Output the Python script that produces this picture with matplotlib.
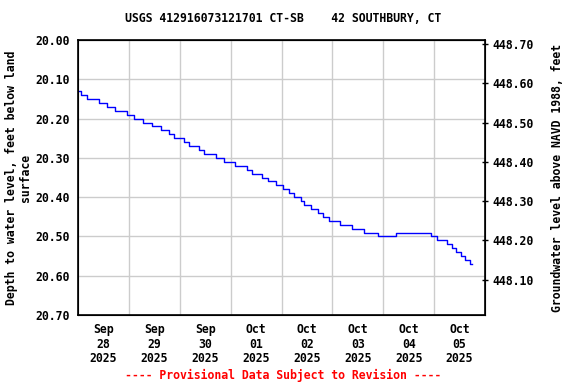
import numpy as np
import pandas as pd
import matplotlib
matplotlib.use("Agg")
import matplotlib.pyplot as plt
import matplotlib.dates as mdates

# step changes (time, depth below land surface)
step_times = [
    "2025-09-28 00:00", "2025-09-28 01:30", "2025-09-28 04:15", "2025-09-28 09:45",
    "2025-09-28 13:45", "2025-09-28 17:30", "2025-09-28 23:00",
    "2025-09-29 02:30", "2025-09-29 06:30", "2025-09-29 10:45", "2025-09-29 15:00",
    "2025-09-29 18:45", "2025-09-29 21:30",
    "2025-09-30 02:00", "2025-09-30 04:15", "2025-09-30 09:00", "2025-09-30 11:15",
    "2025-09-30 17:00", "2025-09-30 20:45",
    "2025-10-01 02:00", "2025-10-01 07:30", "2025-10-01 10:15", "2025-10-01 14:45",
    "2025-10-01 17:30", "2025-10-01 21:30",
    "2025-10-02 00:30", "2025-10-02 03:45", "2025-10-02 05:45", "2025-10-02 09:00",
    "2025-10-02 10:45", "2025-10-02 13:45", "2025-10-02 17:00", "2025-10-02 19:45",
    "2025-10-02 22:30",
    "2025-10-03 03:45", "2025-10-03 09:15", "2025-10-03 14:45", "2025-10-03 21:30",
    "2025-10-04 06:00", "2025-10-04 22:30",
    "2025-10-05 01:30", "2025-10-05 06:00", "2025-10-05 08:30", "2025-10-05 10:15",
    "2025-10-05 12:45", "2025-10-05 14:45", "2025-10-05 17:00", "2025-10-05 18:00",
]
step_depths = [
    20.13, 20.14, 20.15, 20.16, 20.17, 20.18, 20.19,
    20.20, 20.21, 20.22, 20.23, 20.24, 20.25,
    20.26, 20.27, 20.28, 20.29, 20.30, 20.31,
    20.32, 20.33, 20.34, 20.35, 20.36, 20.37,
    20.38, 20.39, 20.40, 20.41, 20.42, 20.43, 20.44, 20.45, 20.46,
    20.47, 20.48, 20.49, 20.50,
    20.49, 20.50,
    20.51, 20.52, 20.53, 20.54, 20.55, 20.56, 20.57, 20.57,
]
land_surface = 468.71  # feet above NAVD 1988
depth_ticks = [20.00, 20.10, 20.20, 20.30, 20.40, 20.50, 20.60, 20.70]
elev_ticks = [448.10, 448.20, 448.30, 448.40, 448.50, 448.60, 448.70]
day_labels = ["2025-09-28", "2025-09-29", "2025-09-30", "2025-10-01",
              "2025-10-02", "2025-10-03", "2025-10-04", "2025-10-05"]

font = "DejaVu Sans Mono"
fs = 8.3
plt.rcParams['font.family'] = font
plt.rcParams['font.weight'] = 'bold'

t = pd.to_datetime(step_times)
days = pd.to_datetime(day_labels)

fig = plt.figure(figsize=(5.76, 3.84), dpi=100)
ax = fig.add_axes([78/576, 1-315/384, (485-78)/576, (315-40)/384])

ax.plot(t, step_depths, drawstyle='steps-post', color='blue', lw=1)

ax.set_ylim(20.70, 20.00)
ax.set_yticks(depth_ticks)
ax.set_yticklabels(["%.2f" % v for v in depth_ticks], fontsize=fs, fontweight='bold')
ax.set_xlim(days[0], days[-1] + pd.Timedelta(days=1))

# gridlines at midnight, labels at noon
ax.set_xticks(list(days[1:]), minor=True)
ax.set_xticks(list(days + pd.Timedelta(hours=12)))
ax.set_xticklabels([d.strftime("%b\n%d\n%Y") for d in days], fontsize=fs,
                   fontweight='bold', linespacing=1.15)
ax.tick_params(axis='x', which='both', length=0, pad=6)
ax.tick_params(axis='y', length=0, pad=6)
ax.grid(True, which='minor', axis='x', color='#cccccc', lw=1)
ax.grid(True, which='major', axis='y', color='#cccccc', lw=1)
for s in ax.spines.values():
    s.set_linewidth(1.2)

ax.set_ylabel("Depth to water level, feet below land\nsurface", fontsize=fs,
              fontweight='bold', linespacing=1.1)
ax.yaxis.set_label_coords(-0.113, 0.5)

ax2 = ax.twinx()
ax2.set_ylim(land_surface - 20.70, land_surface - 20.00)
ax2.set_yticks(elev_ticks)
ax2.set_yticklabels(["%.2f" % v for v in elev_ticks], fontsize=fs, fontweight='bold')
ax2.tick_params(axis='y', direction='inout', length=5, width=1, pad=3)
ax2.set_ylabel("Groundwater level above NAVD 1988, feet", fontsize=fs,
               fontweight='bold')
ax2.yaxis.set_label_coords(1.162, 0.5)

fig.text(283/576, 1-19/384, "USGS 412916073121701 CT-SB    42 SOUTHBURY, CT",
         ha='center', va='center', fontsize=fs, fontweight='bold')
fig.text(283/576, 1-375/384, "---- Provisional Data Subject to Revision ----",
         ha='center', va='center', fontsize=fs, fontweight='bold', color='red')

fig.savefig("out.png", dpi=100)
